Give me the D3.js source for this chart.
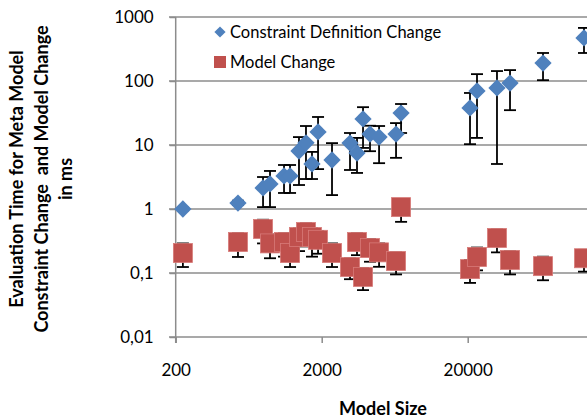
<!DOCTYPE html>
<html>
<head>
<meta charset="utf-8">
<script src="https://cdn.jsdelivr.net/npm/d3@7"></script>
<style>
  body { margin: 0; background: #fff; }
  text { font-family: Lato, "Open Sans", sans-serif; fill: #000; }
</style>
</head>
<body>
<script>
// model sizes shared by both series
const sizes = [224, 534, 793, 885, 1104, 1214, 1398, 1561, 1716, 1888, 2353, 3126,
  3490, 3838, 4285, 4943, 6460, 6993, 20740, 23160, 31740, 38980, 65600, 125200];

const constraintMean = [1.0, 1.24, 2.13, 2.46, 3.28, 3.28, 8.06, 10.8, 5.05, 16, 5.83, 10.7,
  7.5, 25.5, 14.8, 13.3, 14.8, 31.6, 38, 70, 78, 93, 191, 470];
const constraintLow = [0.95, 1.15, 1.07, 1.07, 1.78, 1.78, 2.37, 2.94, 2.94, 4.2, 1.65, 4.07,
  3.66, 9.0, 8, 5.2, 6.3, 15.4, 10.3, 12.9, 5.05, 35, 103, 274];
const constraintHigh = [1.05, 1.35, 3.16, 3.93, 4.87, 4.87, 13.3, 19.8, 7.8, 27.4, 10.7, 15.4,
  12.9, 39, 20, 19.8, 22, 43.7, 65, 128, 143, 148, 274, 675];

const modelMean = [0.205, 0.305, 0.487, 0.29, 0.305, 0.205, 0.365, 0.437, 0.365, 0.33, 0.205, 0.124,
  0.305, 0.087, 0.245, 0.21, 0.154, 1.07, 0.115, 0.178, 0.353, 0.16, 0.128, 0.17];
const modelLow = [0.124, 0.178, 0.29, 0.17, 0.18, 0.124, 0.22, 0.26, 0.18, 0.2, 0.124, 0.08,
  0.19, 0.054, 0.15, 0.125, 0.095, 0.63, 0.07, 0.11, 0.21, 0.095, 0.077, 0.105];
const modelHigh = [0.29, 0.42, 0.68, 0.4, 0.42, 0.29, 0.5, 0.6, 0.5, 0.45, 0.29, 0.17,
  0.42, 0.12, 0.34, 0.29, 0.21, 1.4, 0.16, 0.25, 0.48, 0.22, 0.18, 0.23];

const xTicks = [200, 2000, 20000];
const yTicks = [0.01, 0.1, 1, 10, 100, 1000];
const yTickLabels = ["0,01", "0,1", "1", "10", "100", "1000"];

const width = 587, height = 418;
const blue = "#4f81bd", red = "#c0504d", grid = "#8c8c8c";

const svg = d3.select("body").append("svg")
    .attr("width", width)
    .attr("height", height);

// the x range runs on past the right edge (200000 lies outside the picture)
const x = d3.scaleLog().domain([200, 200000]).range([175.7, 613.7]);
const y = d3.scaleLog().domain([0.01, 1000]).range([337, 17]);

// horizontal gridlines
svg.append("g").selectAll("line")
    .data(yTicks.slice(1))
    .enter().append("line")
    .attr("x1", 169).attr("x2", width)
    .attr("y1", d => y(d)).attr("y2", d => y(d))
    .attr("stroke", grid).attr("stroke-width", 1.5);

// y axis
const yAxis = svg.append("g")
    .attr("transform", "translate(175.7,0)")
    .call(d3.axisLeft(y).tickValues(yTicks).tickSize(6).tickPadding(16)
        .tickFormat((d, i) => yTickLabels[i]));
yAxis.select(".domain").attr("stroke", grid).attr("stroke-width", 1.5)
    .attr("d", "M0,17V343");
yAxis.selectAll(".tick line").attr("stroke", grid).attr("stroke-width", 1.5);
yAxis.selectAll(".tick text").style("font-size", "17px").attr("fill", "#000");

// x axis
const xAxis = svg.append("g")
    .attr("transform", "translate(0,337)")
    .call(d3.axisBottom(x).tickValues(xTicks).tickSize(6).tickPadding(21)
        .tickFormat(d3.format("d")));
xAxis.select(".domain").attr("stroke", grid).attr("stroke-width", 1.5)
    .attr("d", "M169,0H" + width);
xAxis.selectAll(".tick line").attr("stroke", grid).attr("stroke-width", 1.5);
xAxis.selectAll(".tick text").style("font-size", "17px").attr("fill", "#000");

// error bars
function errorBars(low, high, cap) {
    const g = svg.append("g").attr("stroke", "#000").attr("stroke-width", 1.8);
    sizes.forEach((s, i) => {
        const cx = x(s);
        g.append("line").attr("x1", cx).attr("x2", cx)
            .attr("y1", y(low[i])).attr("y2", y(high[i]));
        [low[i], high[i]].forEach(v => {
            g.append("line").attr("x1", cx - cap).attr("x2", cx + cap)
                .attr("y1", y(v)).attr("y2", y(v));
        });
    });
}
errorBars(constraintLow, constraintHigh, 6);
errorBars(modelLow, modelHigh, 6);

// markers
svg.append("g").selectAll("rect")
    .data(modelMean)
    .enter().append("rect")
    .attr("x", (d, i) => x(sizes[i]) - 9.5)
    .attr("y", d => y(d) - 9.5)
    .attr("width", 19).attr("height", 19)
    .attr("fill", red)
    .attr("stroke", "#d77a78").attr("stroke-width", 0.8);

const diamond = d3.symbol().type(d3.symbolDiamond2).size(190);
svg.append("g").selectAll("path")
    .data(constraintMean)
    .enter().append("path")
    .attr("d", diamond)
    .attr("transform", (d, i) => `translate(${x(sizes[i])},${y(d)})`)
    .attr("fill", blue);

// legend
const legend = svg.append("g");
legend.append("path")
    .attr("d", d3.symbol().type(d3.symbolDiamond2).size(80))
    .attr("transform", "translate(220,32)")
    .attr("fill", blue);
legend.append("text").attr("x", 230).attr("y", 38)
    .style("font-size", "16.5px").text("Constraint Definition Change");
legend.append("rect").attr("x", 214).attr("y", 56).attr("width", 12).attr("height", 12)
    .attr("fill", red);
legend.append("text").attr("x", 230).attr("y", 68)
    .style("font-size", "16.5px").text("Model Change");

// axis titles
svg.append("text")
    .attr("x", 383).attr("y", 415)
    .attr("text-anchor", "middle")
    .style("font-size", "18px").style("font-weight", "bold")
    .text("Model Size");

const yTitle = svg.append("text")
    .attr("transform", "translate(0,179) rotate(-90)")
    .attr("text-anchor", "middle")
    .style("font-size", "18px").style("font-weight", "bold");
["Evaluation Time for Meta Model", "Constraint Change  and Model Change", "in ms"]
    .forEach((t, i) => {
        yTitle.append("tspan").attr("x", 0).attr("y", 23 + i * 24.5)
            .attr("xml:space", "preserve").text(t);
    });
</script>
</body>
</html>
